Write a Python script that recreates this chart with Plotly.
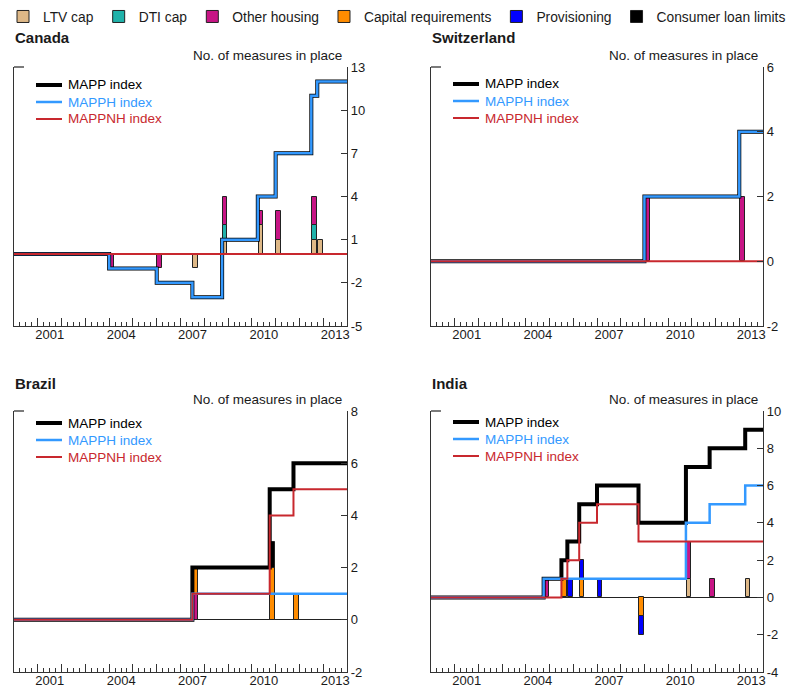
import plotly.graph_objects as go

# ---------------- data ----------------
categories = ["LTV cap", "DTI cap", "Other housing", "Capital requirements",
              "Provisioning", "Consumer loan limits"]
cat_colors = ["#DEB887", "#20B2AA", "#C71585", "#FF8C00", "#0000FF", "#000000"]
index_names = ["MAPP index", "MAPPH index", "MAPPNH index"]
index_colors = ["#000000", "#3399FF", "#C8282E"]
year_ticks = list(range(2000, 2015))
year_labels = ["2001", "2004", "2007", "2010", "2013"]

# Canada
canada_bar_q = ["2004Q1", "2006Q1", "2007Q3", "2008Q4", "2010Q2", "2011Q1", "2012Q3", "2012Q4"]
canada_ltv = [0, 0, -1, 1, 2, 1, 1, 1]
canada_dti = [0, 0, 0, 1, 0, 0, 1, 0]
canada_oth = [-1, -1, 0, 2, 1, 2, 2, 0]
canada_cap = [0, 0, 0, 0, 0, 0, 0, 0]
canada_prov = [0, 0, 0, 0, 0, 0, 0, 0]
canada_cons = [0, 0, 0, 0, 0, 0, 0, 0]
canada_step_q = ["2000Q1", "2004Q1", "2006Q1", "2007Q3", "2008Q4", "2010Q2", "2011Q1", "2012Q3", "2012Q4"]
canada_mapp = [0, -1, -2, -3, 1, 4, 7, 11, 12]
canada_mapph = [0, -1, -2, -3, 1, 4, 7, 11, 12]
canada_mappnh = [0, 0, 0, 0, 0, 0, 0, 0, 0]

# Switzerland
swiss_bar_q = ["2009Q1", "2013Q1"]
swiss_ltv = [0, 0]
swiss_dti = [0, 0]
swiss_oth = [2, 2]
swiss_cap = [0, 0]
swiss_prov = [0, 0]
swiss_cons = [0, 0]
swiss_step_q = ["2000Q1", "2009Q1", "2013Q1"]
swiss_mapp = [0, 2, 4]
swiss_mapph = [0, 2, 4]
swiss_mappnh = [0, 0, 0]

# Brazil
brazil_bar_q = ["2007Q3", "2010Q4", "2011Q4"]
brazil_ltv = [0, 0, 0]
brazil_dti = [0, 0, 0]
brazil_oth = [1, 0, 0]
brazil_cap = [1, 2, 1]
brazil_prov = [0, 0, 0]
brazil_cons = [0, 1, 0]
brazil_step_q = ["2000Q1", "2007Q3", "2010Q4", "2011Q4"]
brazil_mapp = [0, 2, 5, 6]
brazil_mapph = [0, 1, 1, 1]
brazil_mappnh = [0, 1, 4, 5]

# India
india_bar_q = ["2004Q4", "2005Q3", "2005Q4", "2006Q2", "2007Q1", "2008Q4", "2010Q4", "2011Q4", "2013Q2"]
india_ltv = [0, 0, 0, 0, 0, 0, 1, 0, 1]
india_dti = [0, 0, 0, 0, 0, 0, 0, 0, 0]
india_oth = [1, 0, 0, 0, 0, 0, 2, 1, 0]
india_cap = [0, 1, 0, 1, 0, -1, 0, 0, 0]
india_prov = [0, 0, 1, 1, 1, -1, 0, 0, 0]
india_cons = [0, 0, 0, 0, 0, 0, 0, 0, 0]
india_step_q = ["2000Q1", "2004Q4", "2005Q3", "2005Q4", "2006Q2", "2007Q1", "2008Q4", "2010Q4", "2011Q4", "2013Q2"]
india_mapp = [0, 1, 2, 3, 5, 6, 4, 7, 8, 9]
india_mapph = [0, 1, 1, 1, 1, 1, 1, 4, 5, 6]
india_mappnh = [0, 0, 1, 2, 4, 5, 3, 3, 3, 3]

panels = [
    dict(title="Canada", bar_q=canada_bar_q,
         bars=[canada_ltv, canada_dti, canada_oth, canada_cap, canada_prov, canada_cons],
         step_q=canada_step_q, idx=[canada_mapp, canada_mapph, canada_mappnh],
         yticks=[-5, -2, 1, 4, 7, 10, 13]),
    dict(title="Switzerland", bar_q=swiss_bar_q,
         bars=[swiss_ltv, swiss_dti, swiss_oth, swiss_cap, swiss_prov, swiss_cons],
         step_q=swiss_step_q, idx=[swiss_mapp, swiss_mapph, swiss_mappnh],
         yticks=[-2, 0, 2, 4, 6]),
    dict(title="Brazil", bar_q=brazil_bar_q,
         bars=[brazil_ltv, brazil_dti, brazil_oth, brazil_cap, brazil_prov, brazil_cons],
         step_q=brazil_step_q, idx=[brazil_mapp, brazil_mapph, brazil_mappnh],
         yticks=[-2, 0, 2, 4, 6, 8]),
    dict(title="India", bar_q=india_bar_q,
         bars=[india_ltv, india_dti, india_oth, india_cap, india_prov, india_cons],
         step_q=india_step_q, idx=[india_mapp, india_mapph, india_mappnh],
         yticks=[-4, -2, 0, 2, 4, 6, 8, 10]),
]

# ---------------- layout helpers ----------------
W, H = 794, 688
OFF = 8          # page body margin: figure pixel = screen pixel - OFF
FONT = "Liberation Sans, Arial, sans-serif"
TXT = "#1a1a1a"
AX = "#333333"
START, END = 2000.0, 2014.0
LW = [4, 2.5, 2]


def qnum(q):
    return int(q[:4]) + (int(q[-1]) - 1) / 4.0


def px(x):
    return (x - OFF) / W


def py(y):
    return 1 - (y - OFF) / H


# screen-pixel boxes (left, right, top, bottom)
boxes = [(14, 347, 67, 326), (431, 763, 67, 326), (14, 347, 411, 672), (431, 763, 411, 672)]
title_y = [38, 38, 383, 383]
# inner legend: sample line start x, first row centre y
leg_pos = [(36, 85), (453, 84), (36, 423), (453, 422)]
ROW = 17

fig = go.Figure()
shown = set()
for k, p in enumerate(panels):
    xa = "x" if k == 0 else f"x{k + 1}"
    ya = "y" if k == 0 else f"y{k + 1}"
    for ci, cat in enumerate(categories):
        vals = p["bars"][ci]
        xs = [qnum(q) + 0.125 for q, v in zip(p["bar_q"], vals) if v != 0]
        ys = [v for v in vals if v != 0]
        if not ys:
            continue
        show = cat not in shown
        shown.add(cat)
        fig.add_bar(x=xs, y=ys, xaxis=xa, yaxis=ya, width=0.19,
                    marker=dict(color=cat_colors[ci], line=dict(color="#222222", width=1)),
                    name=cat, showlegend=show, legendrank=ci + 1,
                    legendgroup=cat, hoverinfo="skip")
    for ii in range(3):
        vals = p["idx"][ii]
        xs = [qnum(q) for q in p["step_q"]] + [END]
        ys = list(vals) + [vals[-1]]
        fig.add_scatter(x=xs, y=ys, xaxis=xa, yaxis=ya, mode="lines",
                        line=dict(shape="hv", color=index_colors[ii], width=LW[ii]),
                        name=index_names[ii], showlegend=False, hoverinfo="skip")

layout = dict(
    template="none",
    width=W, height=H, margin=dict(l=0, r=0, t=0, b=0, autoexpand=False),
    paper_bgcolor="white", plot_bgcolor="white",
    font=dict(family=FONT, size=13, color=TXT),
    barmode="relative", bargap=0, showlegend=True,
    legend=dict(orientation="h", x=-5 / W, y=1 + 7 / H, xanchor="left", yanchor="top",
                font=dict(size=13.8, color=TXT), bgcolor="rgba(0,0,0,0)",
                itemwidth=30, traceorder="normal"),
)
annotations = []
shapes = []
for k, p in enumerate(panels):
    l, r, t, b = boxes[k]
    sx = "" if k == 0 else str(k + 1)
    layout[f"xaxis{sx}"] = dict(
        domain=[px(l), px(r)], anchor=f"y{sx}", range=[START, END],
        tickmode="array", tickvals=year_ticks,
        ticktext=[str(y) if str(y) in year_labels else "" for y in year_ticks],
        ticklabelshift=12, ticklabelstandoff=-4,
        ticks="inside", ticklen=8, tickwidth=1, tickcolor=AX,
        minor=dict(ticks="inside", ticklen=4, tickwidth=1, tickcolor=AX,
                   tickmode="linear", tick0=START, dtick=0.25, showgrid=False),
        showline=True, linecolor=AX, linewidth=1.3, showgrid=False, zeroline=False,
        automargin=False, tickfont=dict(size=13, color=TXT), fixedrange=True,
    )
    yt = p["yticks"]
    layout[f"yaxis{sx}"] = dict(
        domain=[py(b), py(t)], anchor=f"x{sx}", side="right",
        range=[yt[0], yt[-1]], tickmode="array", tickvals=yt,
        ticktext=[str(v) for v in yt],
        ticks="inside", ticklen=6, tickwidth=1, tickcolor=AX,
        showline=True, mirror=True, linecolor=AX, linewidth=1.3,
        showgrid=False, zeroline=True, zerolinecolor="#222222", zerolinewidth=1,
        automargin=False, tickfont=dict(size=13, color=TXT), fixedrange=True,
    )
    annotations.append(dict(text=f"<b>{p['title']}</b>", xref="paper", yref="paper",
                            x=px(l - 1), y=py(title_y[k]), xanchor="left", yanchor="middle",
                            showarrow=False, font=dict(size=15, color=TXT)))
    annotations.append(dict(text="No. of measures in place", xref=f"x{sx} domain",
                            yref=f"y{sx} domain", x=1, y=1, xanchor="right", yanchor="bottom",
                            xshift=-3, yshift=2, showarrow=False,
                            font=dict(size=13.5, color=TXT)))
    shapes.append(dict(type="line", xref=f"x{sx} domain", yref=f"y{sx} domain",
                       x0=0, x1=0.03, y0=1, y1=1, line=dict(color=AX, width=1.3)))
    # inner legend (line sample + coloured label)
    lx, ly = leg_pos[k]
    for ii in range(3):
        yy = py(ly + ii * ROW)
        shapes.append(dict(type="line", xref="paper", yref="paper",
                           x0=px(lx), x1=px(lx + 26), y0=yy, y1=yy,
                           line=dict(color=index_colors[ii], width=LW[ii])))
        annotations.append(dict(text=index_names[ii], xref="paper", yref="paper",
                                x=px(lx + 30), y=yy, xanchor="left", yanchor="middle",
                                showarrow=False, font=dict(size=13.5, color=index_colors[ii])))

layout["annotations"] = annotations
layout["shapes"] = shapes
fig.update_layout(**layout)
fig.write_html("out.html")
